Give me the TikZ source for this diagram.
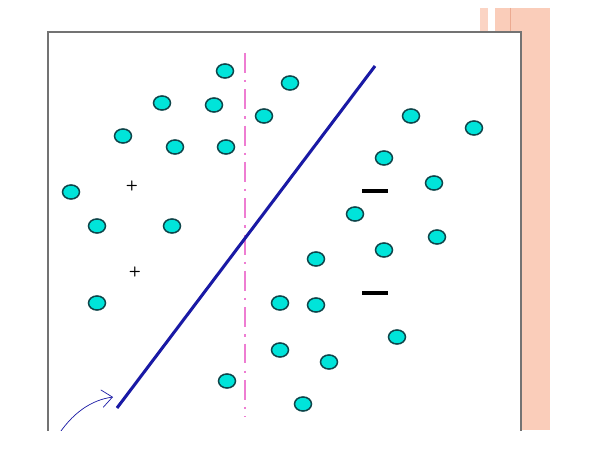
\documentclass[tikz,border=0pt]{standalone}
\usepackage{tikz}
\usetikzlibrary{arrows.meta,shapes.geometric}
\definecolor{aqua}{RGB}{0,228,218}
\definecolor{deepsea}{RGB}{15,70,75}
\definecolor{navy}{RGB}{25,25,165}
\definecolor{orchid}{RGB}{238,125,210}
\definecolor{salmon}{RGB}{250,205,186}
\definecolor{rust}{RGB}{236,170,145}
\definecolor{slate}{RGB}{115,115,115}
\tikzset{
  dot/.style={ellipse,draw=deepsea,fill=aqua,line width=1.3pt,
    minimum width=14.5pt,minimum height=12pt,inner sep=0pt},
  sign/.style={inner sep=0pt,font=\large\sffamily\bfseries},
  bar/.style={fill=black,inner sep=0pt,minimum width=22pt,minimum height=2.6pt},
  split/.style={draw=navy,line width=2.6pt},
  axis/.style={draw=orchid,line width=2.4pt,dash pattern=on 17pt off 6pt on 2pt off 6pt},
  pointer/.style={draw=navy,semithick,-{Straight Barb[length=9pt,width=15pt]}},
}
\begin{document}
\begin{tikzpicture}[x=0.03cm,y=-0.03cm]
  \useasboundingbox[fill=white] (0,0) rectangle (593,457);
  \begin{scope}
    \clip (0,0) rectangle (593,430);
    % stripes behind the frame
    \fill[salmon!85] (480,8) rectangle (488,430);
    \fill[salmon] (495,8) rectangle (550,430);
    \draw[rust,thick] (510,8) -- (510,430);
    % frame
    \draw[slate,fill=white,line width=1.5pt] (48,32) rectangle (521,470);
    % dividing lines
    \coordinate (axtop) at (245,53);
    \coordinate (axbot) at (245,417);
    \draw[axis] (axtop) -- (axbot);
    \coordinate (lnlow) at (117,408);
    \coordinate (lnhigh) at (375,66);
    \draw[split] (lnlow) -- (lnhigh);
    % samples
    \foreach \x/\y [count=\i] in {225/71,290/83,162/103,214/105,264/116,411/116,
      474/128,123/136,175/147,226/147,384/158,71/192,434/183,97/226,172/226,
      355/214,437/237,384/250,316/259,97/303,280/303,316/305,397/337,280/350,
      329/362,227/381,303/404}
      \node[dot] (p\i) at (\x,\y) {};
    \node[sign] (plusA) at (132,186) {+};
    \node[sign] (plusB) at (135,272) {+};
    \node[bar] (minusA) at (375,191) {};
    \node[bar] (minusB) at (375,293) {};
    % pointer to the line
    \coordinate (tail) at (55,440);
    \coordinate (tip) at (113,397);
    \draw[pointer] (tail) .. controls (72,412) and (92,400) .. (tip);
  \end{scope}
\end{tikzpicture}
\end{document}
